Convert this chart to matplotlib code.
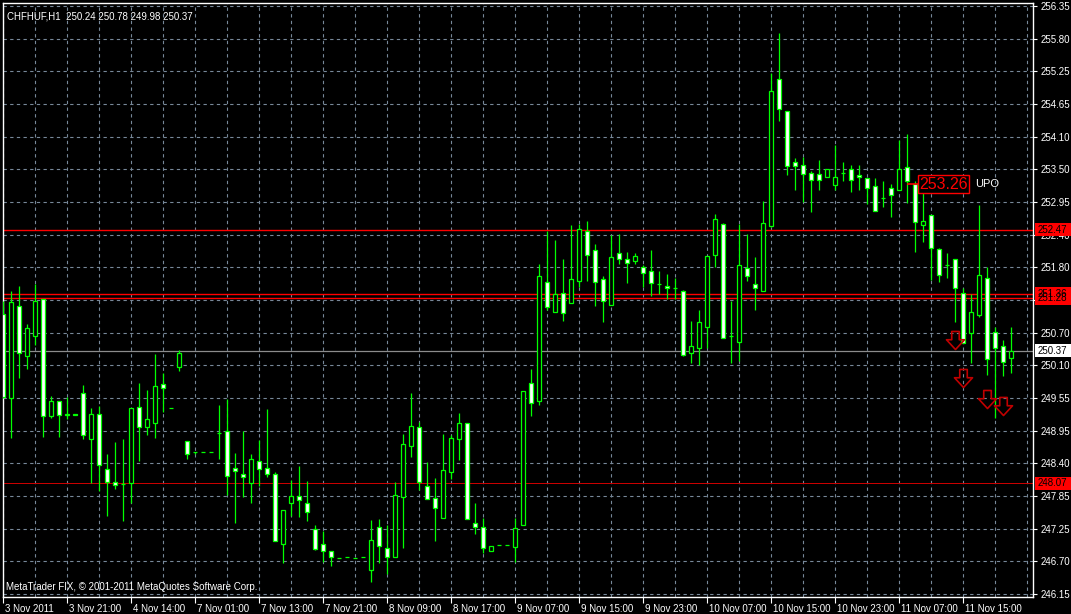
import numpy as np
import matplotlib
matplotlib.use("Agg")
from matplotlib import pyplot as plt
from matplotlib.path import Path
from matplotlib.patches import Rectangle
from matplotlib import transforms

plt.rcParams['font.family'] = ['Liberation Sans', 'DejaVu Sans']

# CHFHUF H1 - open/high/low/close
opens = [251.00, 249.55, 251.14, 250.27, 250.63, 251.26, 249.23, 249.49, 249.27, 249.28,
         249.63, 248.84, 249.28, 248.31, 248.09, 248.06, 248.07, 249.39, 249.05, 249.12,
         249.79, 249.37, 250.09, 248.80, 248.61, 248.62, 248.62, 248.94, 248.97, 248.33,
         248.23, 248.08, 248.45, 248.33, 248.24, 247.02, 247.73, 247.85, 247.72, 247.27,
         247.01, 246.89, 246.77, 246.79, 246.77, 246.79, 246.57, 247.32, 246.94, 246.80,
         247.83, 248.72, 249.04, 248.02, 247.81, 247.46, 248.27, 248.84, 249.11, 247.39,
         247.32, 246.90, 247.00, 247.00, 246.97, 247.34, 249.81, 249.49, 251.56, 251.05,
         251.37, 251.19, 251.58, 252.45, 252.11, 251.61, 251.16, 252.06, 251.96, 251.92,
         251.82, 251.75, 251.52, 251.49, 251.45, 251.40, 250.33, 250.41, 250.78, 252.03,
         252.56, 250.62, 250.53, 251.80, 251.52, 251.40, 252.54, 255.08, 254.53, 253.64,
         253.59, 253.45, 253.43, 253.38, 253.24, 253.45, 253.52, 253.41, 253.36, 253.22,
         253.02, 253.19, 253.15, 253.55, 253.27, 252.55, 252.72, 252.13, 251.86, 251.96,
         251.38, 250.67, 250.99, 251.63, 250.69, 250.46, 250.24]
highs = [251.23, 251.41, 251.49, 250.83, 251.53, 251.27, 249.58, 249.50, 249.56, 249.28,
         249.78, 249.37, 249.41, 248.58, 248.78, 248.84, 249.38, 249.81, 249.69, 250.31,
         249.98, 249.37, 250.38, 248.80, 248.61, 248.62, 248.62, 249.42, 249.53, 248.60,
         248.98, 248.58, 248.82, 249.36, 248.27, 247.60, 248.13, 248.37, 248.11, 247.35,
         247.25, 246.89, 246.77, 246.79, 246.77, 246.79, 247.43, 247.45, 247.35, 248.09,
         248.93, 249.63, 249.13, 248.44, 248.17, 248.93, 248.91, 249.29, 249.11, 247.72,
         247.46, 246.99, 247.00, 247.00, 247.46, 249.68, 250.05, 251.87, 252.45, 252.29,
         251.96, 252.55, 252.57, 252.62, 252.22, 251.67, 252.38, 252.39, 252.08, 252.07,
         251.85, 252.12, 251.75, 251.70, 251.63, 251.43, 250.89, 251.08, 252.01, 252.74,
         252.59, 251.24, 252.56, 252.39, 251.99, 252.96, 255.18, 255.88, 254.53, 253.71,
         253.73, 253.49, 253.68, 253.52, 253.94, 253.64, 253.59, 253.59, 253.36, 253.36,
         253.31, 253.27, 254.02, 254.13, 253.31, 253.10, 252.72, 252.15, 252.06, 251.96,
         251.45, 251.35, 252.89, 251.82, 250.79, 250.55, 250.78]
lows = [249.55, 248.86, 249.90, 250.05, 250.47, 248.88, 249.21, 248.88, 249.18, 249.25,
        248.84, 248.08, 247.94, 247.51, 247.97, 247.42, 247.73, 248.45, 248.90, 248.86,
        249.30, 249.37, 250.01, 248.50, 248.57, 248.62, 248.62, 248.49, 247.86, 247.39,
        247.84, 247.73, 248.02, 248.18, 247.07, 246.68, 247.50, 247.49, 247.42, 246.91,
        246.71, 246.64, 246.77, 246.79, 246.77, 246.79, 246.35, 246.68, 246.49, 246.80,
        246.94, 248.53, 247.95, 247.79, 247.07, 247.46, 248.15, 248.47, 247.45, 247.19,
        246.86, 246.90, 247.00, 247.00, 246.71, 247.34, 249.24, 249.43, 251.08, 251.05,
        250.89, 251.19, 251.48, 251.58, 251.15, 250.86, 251.16, 251.87, 251.55, 251.87,
        251.48, 251.32, 251.35, 251.26, 251.26, 250.27, 250.16, 250.13, 250.42, 251.83,
        250.59, 250.16, 250.20, 251.58, 251.08, 251.40, 252.51, 254.36, 253.42, 253.15,
        252.95, 252.78, 253.16, 253.38, 253.15, 253.32, 253.13, 253.16, 252.91, 252.79,
        252.86, 252.69, 253.15, 252.93, 252.08, 252.25, 251.60, 251.56, 251.64, 250.87,
        250.50, 250.16, 250.96, 249.95, 249.20, 249.94, 249.98]
closes = [249.56, 251.21, 250.33, 250.76, 251.23, 249.23, 249.49, 249.25, 249.26, 249.25,
          248.90, 249.28, 248.38, 248.10, 248.04, 248.06, 249.37, 249.05, 249.18, 249.75,
          249.72, 249.37, 250.33, 248.58, 248.61, 248.62, 248.62, 248.94, 248.20, 248.28,
          248.18, 248.49, 248.31, 248.24, 247.07, 247.60, 247.85, 247.78, 247.58, 246.93,
          246.90, 246.79, 246.77, 246.79, 246.77, 246.79, 247.08, 246.99, 246.79, 247.86,
          248.75, 249.06, 248.10, 247.79, 247.65, 248.30, 248.85, 249.11, 247.45, 247.31,
          246.94, 246.99, 247.00, 247.00, 247.29, 249.68, 249.46, 251.66, 251.12, 251.35,
          251.02, 251.61, 252.48, 252.03, 251.56, 251.23, 251.99, 251.96, 251.89, 252.01,
          251.71, 251.54, 251.52, 251.45, 251.45, 250.29, 250.45, 250.86, 252.01, 252.65,
          250.59, 250.62, 251.85, 251.66, 251.45, 252.58, 254.88, 254.56, 253.58, 253.57,
          253.43, 253.33, 253.33, 253.52, 253.38, 253.45, 253.33, 253.38, 253.20, 252.79,
          253.02, 253.08, 253.52, 253.31, 252.60, 252.62, 252.15, 251.68, 251.86, 251.45,
          250.50, 251.04, 251.68, 250.22, 250.41, 250.17, 250.37]

time_labels = ["3 Nov 2011", "3 Nov 21:00", "4 Nov 14:00", "7 Nov 01:00", "7 Nov 13:00",
               "7 Nov 21:00", "8 Nov 09:00", "8 Nov 17:00", "9 Nov 07:00", "9 Nov 15:00",
               "9 Nov 23:00", "10 Nov 07:00", "10 Nov 15:00", "10 Nov 23:00",
               "11 Nov 07:00", "11 Nov 15:00"]
price_labels = ["256.35", "255.80", "255.25", "254.65", "254.10", "253.50", "252.95",
                "252.40", "251.80", "251.25", "250.70", "250.10", "249.55", "248.95",
                "248.40", "247.85", "247.25", "246.70", "246.15"]

# horizontal levels
red_levels = [252.47, 251.36, 251.28]
support_level = 248.07
bid = 250.37
# sell arrows (bar index, price)
arrow_bars = [119, 120, 123, 125]
arrow_prices = [250.56, 249.89, 249.54, 249.41]
upo_price = 253.26
upo_bar = 114

o = np.array(opens); h = np.array(highs); l = np.array(lows); c = np.array(closes)
x = np.arange(len(o))
green = '#00ff00'

fig = plt.figure(figsize=(10.71, 6.14), dpi=100, facecolor='black')
ax = fig.add_axes([2.7 / 1071, 1 - 597 / 614, 1030.6 / 1071, 594.3 / 614])
ax.set_facecolor('black')

# candles
ax.vlines(x, l, h, color=green, lw=0.9, zorder=3)
bear = c < o
ax.bar(x, np.abs(c - o), bottom=np.minimum(o, c), width=0.5,
       color=np.where(bear, 'white', 'black'), edgecolor=green, linewidth=0.9, zorder=4)

# levels
for lv in red_levels:
    ax.axhline(lv, color='#ff0000', lw=1.0, zorder=2)
ax.axhline(support_level, color='#d00000', lw=0.7, zorder=2)
ax.axhline(bid, color='#8c8c8c', lw=0.9, zorder=2)

# arrows
arrow = Path([(-0.25, 0.6), (0.25, 0.6), (0.25, 0.05), (0.6, 0.05), (0.0, -0.6),
              (-0.6, 0.05), (-0.25, 0.05), (-0.25, 0.6)],
             [Path.MOVETO] + [Path.LINETO] * 6 + [Path.CLOSEPOLY])
ax.plot(arrow_bars, arrow_prices, ls='none', marker=arrow, markersize=13,
        markerfacecolor='none', markeredgecolor='#c00000', markeredgewidth=1.2, zorder=5)

# UPO label
ax.hlines(upo_price, upo_bar - 1.0, upo_bar + 0.3, color='#ff0000', lw=1.2, zorder=5)
ax.text(upo_bar + 0.45, upo_price, f"{upo_price:.2f}", color='#ff0000', fontsize=11.5,
        va='center', ha='left', zorder=6,
        bbox=dict(boxstyle='square,pad=0.08', fc='black', ec='#ff0000', lw=1))
ax.text(upo_bar + 7.5, upo_price, "UPO", color='white', fontsize=8, va='center', ha='left', zorder=6)

# axes limits and grid
ax.set_xlim((2.7 - 3.4) / 8, (1033.3 - 3.4) / 8)
ax.set_ylim(256.454 - 597 / 57.647, 256.454 - 2.7 / 57.647)
yt = np.linspace(256.35, 246.15, len(price_labels))
ax.yaxis.tick_right()
ax.set_yticks(yt)
ax.set_yticklabels(price_labels)
ax.set_xticks(np.arange(len(time_labels)) * 8)
ax.set_xticklabels(time_labels)
ax.set_xticks(np.arange(0, 129, 4), minor=True)
ax.tick_params(axis='y', colors='white', labelcolor='white', labelsize=7, length=3, width=0.8, pad=2)
ax.tick_params(axis='x', which='major', colors='white', labelcolor='white', labelsize=7, length=4, width=0.8, pad=1)
ax.tick_params(axis='x', which='minor', length=0)
offset = transforms.ScaledTranslation(2 / 100, 0, fig.dpi_scale_trans)
for lbl in ax.get_xticklabels():
    lbl.set_horizontalalignment('left')
    lbl.set_transform(lbl.get_transform() + offset)
ax.grid(True, which='both', color='#778899', ls=(0, (3, 3)), lw=0.8, zorder=0)
ax.set_axisbelow(True)
for s in ax.spines.values():
    s.set_color('white')
    s.set_linewidth(1)

# right-side price tags (they cover the axis labels underneath, as in MT4)
tr = transforms.blended_transform_factory(ax.transAxes, ax.transData)
tag_h = 13 / 57.647
tags = [(251.36, '#ff0000'), (251.28, '#ff0000'), (252.47, '#ff0000'),
        (support_level, '#ff0000'), (bid, 'white')]
for lv, fc in tags:
    ax.add_patch(Rectangle((1.0015, lv - tag_h / 2), 0.04, tag_h, transform=tr, fc=fc,
                           ec='none', clip_on=False, zorder=9))
    ax.text(1.0045, lv, f"{lv:.2f}", transform=tr, color='black', fontsize=7, va='center',
            ha='left', clip_on=False, zorder=10)

# header / footer
ax.text(0.004, 0.985, f"CHFHUF,H1  {o[-1]:.2f} {h[-1]:.2f} {l[-1]:.2f} {c[-1]:.2f}",
        transform=ax.transAxes, color='white', fontsize=7, va='top', ha='left', zorder=10)
ax.text(0.003, 0.008, "MetaTrader FIX, \u00a9 2001-2011 MetaQuotes Software Corp.",
        transform=ax.transAxes, color='white', fontsize=7, va='bottom', ha='left', zorder=10)

plt.savefig('out.png', dpi=100, facecolor='black')
